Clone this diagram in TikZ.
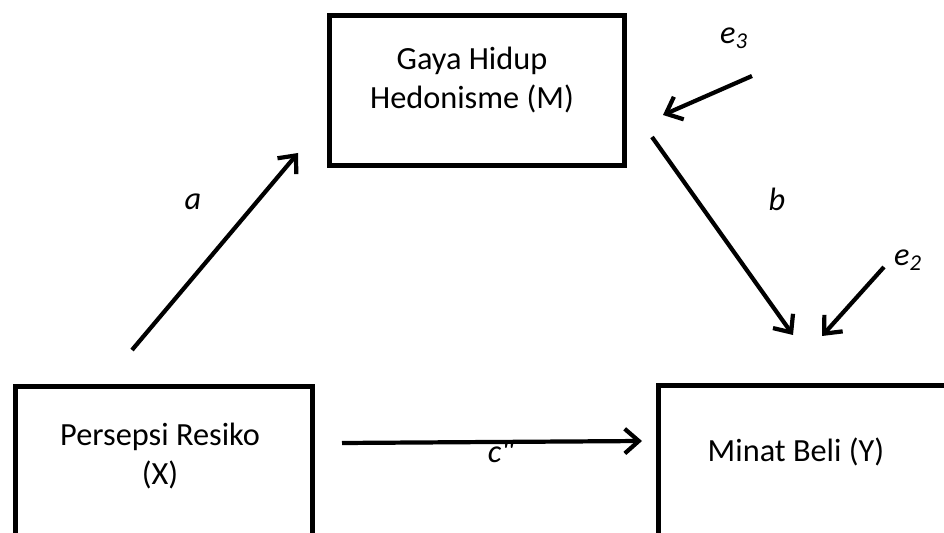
\documentclass[tikz,border=0pt]{standalone}
\usepackage{fontspec}
\setmainfont{Carlito}
\usetikzlibrary{arrows.meta}

\begin{document}
\begin{tikzpicture}[x=0.02cm, y=-0.02cm,
  box/.style={draw, line width=2.6pt, inner sep=0pt, anchor=north west},
  boxtext/.style={align=center, inner sep=0pt, font=\fontsize{18.4}{22.7}\selectfont},
  link/.style={line width=2.4pt, -{Straight Barb[length=8pt, width=14pt]}},
  coef/.style={inner sep=0pt, font=\fontsize{18.4}{22}\selectfont\itshape},
]

\useasboundingbox (0,0) rectangle (944,533);
\clip (0,0) rectangle (944,533);

\node[box, minimum width=5.9cm, minimum height=3cm] (M) at (327,13) {};
\node[box, minimum width=5.94cm, minimum height=4cm] (X) at (13,384) {};
\node[box, minimum width=6.8cm, minimum height=4cm] (Y) at (656,383) {};

\node[boxtext] (Mtext) at (472,80) {Gaya Hidup\\Hedonisme (M)};
\node[boxtext] (Xtext) at (160,456) {Persepsi Resiko\\(X)};
\node[boxtext] (Ytext) at (796,452) {Minat Beli (Y)};

\coordinate (a0) at (132,350);
\coordinate (a1) at (298,153);
\coordinate (b0) at (652,137);
\coordinate (b1) at (793,335);
\coordinate (c0) at (342,443);
\coordinate (c1) at (642,441);
\coordinate (e3from) at (752,76);
\coordinate (e3to) at (663,115);
\coordinate (e2from) at (884,267);
\coordinate (e2to) at (822,336);

\draw[link] (a0) -- (a1);
\draw[link] (b0) -- (b1);
\draw[link] (c0) -- (c1);
\draw[link] (e3from) -- (e3to);
\draw[link] (e2from) -- (e2to);

\node[coef] (la) at (193,202) {a};
\node[coef] (lb) at (777,199) {b};
\node[coef] (lc) at (501,452) {c\textquotedbl};
\node[coef] (le3) at (734,38) {e\textsubscript{3}};
\node[coef] (le2) at (908,260) {e\textsubscript{2}};

\end{tikzpicture}
\end{document}
